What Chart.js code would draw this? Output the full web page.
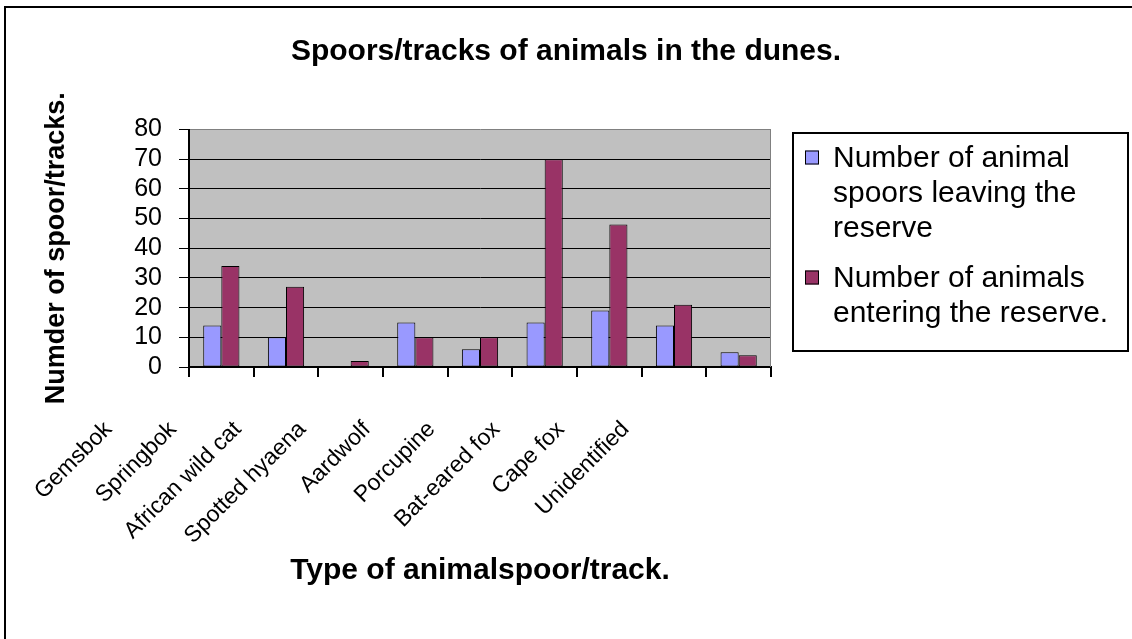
<!DOCTYPE html>
<html>
<head>
<meta charset="utf-8">
<title>Spoors/tracks of animals in the dunes.</title>
<script src="https://cdn.jsdelivr.net/npm/chart.js@4"></script>
<style>
  html, body { margin: 0; padding: 0; background: #fff; }
  #wrap { position: relative; width: 1132px; height: 639px; }
</style>
</head>
<body>
<div id="wrap"><canvas id="spoorChart"></canvas></div>
<script>
// chart data
const chartTitle = 'Spoors/tracks of animals in the dunes.';
const xTitle = 'Type of animalspoor/track.';
const yTitle = 'Numder of spoor/tracks.';
const animals = ['Gemsbok', 'Springbok', 'African wild cat', 'Spotted hyaena', 'Aardwolf',
                 'Porcupine', 'Bat-eared fox', 'Cape fox', 'Unidentified'];
const leaving = [14, 10, null, 15, 6, 15, 19, 14, 5];
const entering = [34, 27, 2, 10, 10, 70, 48, 21, 4];
const seriesNames = ['Number of animal spoors leaving the reserve', 'Number of animals entering the reserve.'];
const seriesColors = ['#9999FF', '#993366'];
const yTicks = [0, 10, 20, 30, 40, 50, 60, 70, 80];

const FONT = '"Liberation Sans", Arial, sans-serif';

function wrapText(ctx, text, maxWidth) {
    const words = text.split(' ');
    const lines = [];
    let line = words[0];
    for (let i = 1; i < words.length; i++) {
        const test = line + ' ' + words[i];
        if (ctx.measureText(test).width > maxWidth) {
            lines.push(line);
            line = words[i];
        } else {
            line = test;
        }
    }
    lines.push(line);
    return lines;
}

// grey plot area, outer frame, title and the boxed legend
const plotDecor = {
    id: 'plotDecor',
    beforeDraw(chart) {
        const {ctx, chartArea: a} = chart;
        ctx.save();
        ctx.fillStyle = '#C0C0C0';
        ctx.fillRect(a.left, a.top, a.right - a.left, a.bottom - a.top);
        ctx.restore();
    },
    beforeDatasetsDraw(chart) {
        const {ctx, chartArea: a} = chart;
        ctx.save();
        ctx.strokeStyle = '#808080';
        ctx.lineWidth = 1;
        ctx.beginPath();
        ctx.moveTo(a.right - 0.5, a.top);
        ctx.lineTo(a.right - 0.5, a.bottom);
        ctx.stroke();
        ctx.restore();
    },
    afterDraw(chart) {
        const {ctx, chartArea: a} = chart;
        ctx.save();

        // outer frame (right and bottom edges fall outside the picture)
        ctx.strokeStyle = '#000';
        ctx.lineWidth = 2;
        ctx.strokeRect(5, 7, chart.width + 40, chart.height + 40);

        // title
        ctx.fillStyle = '#000';
        ctx.font = 'bold 30px ' + FONT;
        ctx.textAlign = 'center';
        ctx.textBaseline = 'alphabetic';
        ctx.fillText(chartTitle, chart.width / 2, 60);

        // legend
        const boxLeft = a.right + 22;
        const boxTop = a.top + 3.5;
        ctx.lineWidth = 2;
        ctx.strokeRect(boxLeft, boxTop, chart.width - 4 - boxLeft, 218);
        ctx.font = '30px ' + FONT;
        ctx.textAlign = 'left';
        let base = boxTop + 33.5;
        chart.data.datasets.forEach(ds => {
            const lines = wrapText(ctx, ds.label, 290);
            ctx.fillStyle = ds.backgroundColor;
            ctx.fillRect(boxLeft + 12, base - 16, 14, 14);
            ctx.lineWidth = 1;
            ctx.strokeStyle = '#000';
            ctx.strokeRect(boxLeft + 12.5, base - 15.5, 13, 13);
            ctx.fillStyle = '#000';
            lines.forEach((ln, i) => ctx.fillText(ln, boxLeft + 40, base + i * 35));
            base += lines.length * 35 + 15;
        });
        ctx.restore();
    }
};

new Chart(document.getElementById('spoorChart'), {
    type: 'bar',
    data: {
        labels: animals,
        datasets: [{
            label: seriesNames[0],
            data: leaving,
            backgroundColor: seriesColors[0],
            borderColor: '#000',
            borderWidth: 1,
            borderSkipped: false
        }, {
            label: seriesNames[1],
            data: entering,
            backgroundColor: seriesColors[1],
            borderColor: '#000',
            borderWidth: 1,
            borderSkipped: false
        }]
    },
    options: {
        responsive: true,
        maintainAspectRatio: false,
        animation: false,
        categoryPercentage: 0.56,
        barPercentage: 1,
        layout: {
            padding: { top: 129.5, right: 361, bottom: 0, left: 0 }
        },
        plugins: {
            legend: { display: false },
            title: { display: false },
            tooltip: { enabled: false }
        },
        scales: {
            x: {
                grid: { drawOnChartArea: false, tickLength: 10, tickColor: '#000', lineWidth: 2 },
                border: { color: '#000', width: 2 },
                ticks: {
                    color: '#000',
                    font: { family: FONT, size: 23 },
                    minRotation: 45,
                    maxRotation: 45,
                    autoSkip: false,
                    padding: 39,
                    labelOffset: -113
                },
                title: {
                    display: true,
                    text: xTitle,
                    color: '#000',
                    font: { family: FONT, size: 30, weight: 'bold' },
                    padding: { top: 0, bottom: 50 }
                },
                afterFit(scale) { scale.height = 272; }
            },
            y: {
                min: yTicks[0],
                max: yTicks[yTicks.length - 1],
                grid: {
                    color: c => (c.tick && c.tick.value === yTicks[yTicks.length - 1]) ? '#808080' : '#000',
                    lineWidth: 1,
                    tickLength: 10,
                    tickColor: '#000'
                },
                border: { color: '#000', width: 2 },
                ticks: {
                    stepSize: yTicks[1] - yTicks[0],
                    autoSkip: false,
                    color: '#000',
                    font: { family: FONT, size: 25 },
                    padding: 17
                },
                title: {
                    display: true,
                    text: yTitle,
                    color: '#000',
                    font: { family: FONT, size: 27, weight: 'bold' },
                    padding: { top: 40, bottom: 0 }
                },
                afterFit(scale) { scale.width = 189; }
            }
        }
    },
    plugins: [plotDecor]
});
</script>
</body>
</html>
